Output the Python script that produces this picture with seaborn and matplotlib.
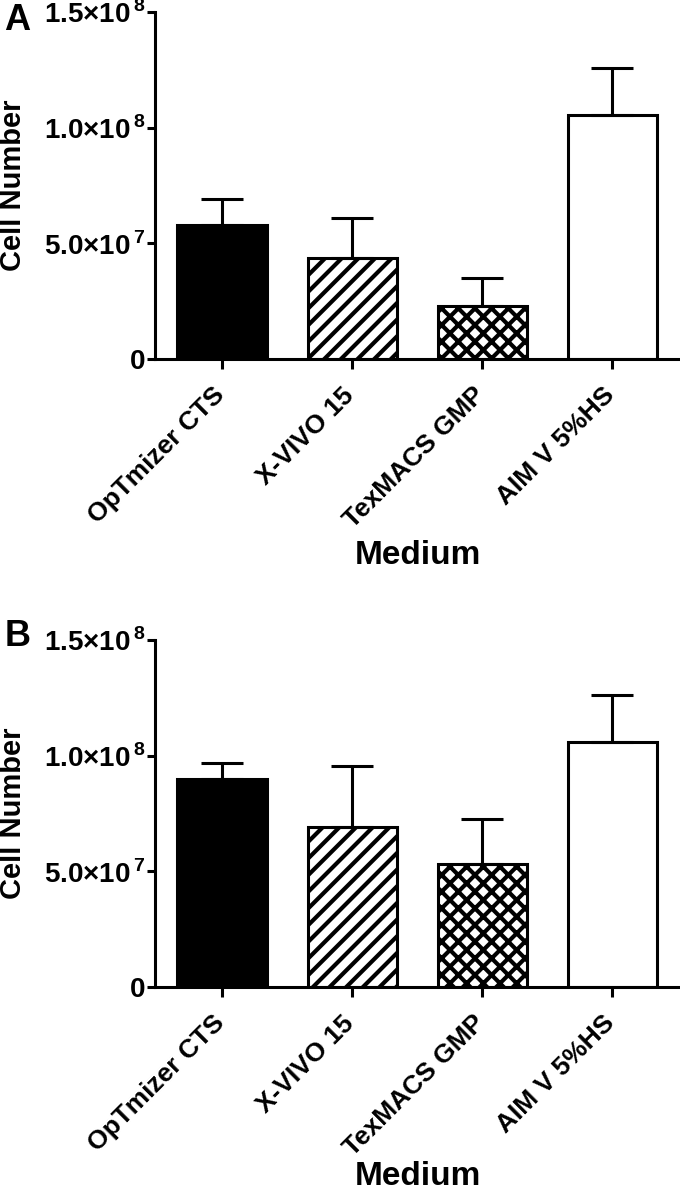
import numpy as np
import pandas as pd
import matplotlib
matplotlib.use("Agg")
import matplotlib.pyplot as plt
import matplotlib.transforms as mtrans
from matplotlib.ticker import FixedLocator, FuncFormatter
import seaborn as sns

media = ["OpTmizer CTS", "X-VIVO 15", "TexMACS GMP", "AIM V 5%HS"]
mean_a = [5.79e7, 4.37e7, 2.29e7, 1.055e8]
sd_a = [1.13e7, 1.73e7, 1.21e7, 2.03e7]
mean_b = [8.99e7, 6.92e7, 5.32e7, 1.059e8]
sd_b = [0.69e7, 2.63e7, 1.94e7, 2.03e7]
y_ticks = [0, 5e7, 1e8, 1.5e8]
y_tick_labels = ["0", r"$5.0{\times}10^{\,7}$", r"$1.0{\times}10^{\,8}$", r"$1.5{\times}10^{\,8}$"]

fills = ["black", "white", "white", "white"]
hatches = [None, "//", "xx", None]

sns.set_style("ticks")
plt.rcParams["font.family"] = ["Liberation Sans", "DejaVu Sans"]
plt.rcParams["font.weight"] = "bold"
plt.rcParams["text.color"] = "black"
plt.rcParams["axes.labelcolor"] = "black"
plt.rcParams["mathtext.fontset"] = "custom"
plt.rcParams["mathtext.rm"] = "Liberation Sans:bold"
plt.rcParams["mathtext.bf"] = "Liberation Sans:bold"
plt.rcParams["hatch.linewidth"] = 3.0
plt.rcParams["hatch.color"] = "black"

fig = plt.figure(figsize=(6.8, 11.96), dpi=100)
ax_a = fig.add_axes([155 / 680, 837 / 1196, 525 / 680, 347 / 1196])
ax_b = fig.add_axes([155 / 680, 209 / 1196, 525 / 680, 347 / 1196])


def draw_panel(ax, means, sds, letter, letter_y, medium_y):
    df = pd.DataFrame({"Medium": media, "Cells": means})
    sns.barplot(data=df, x="Medium", y="Cells", ax=ax, errorbar=None,
                width=0.685, color="white")
    for patch, fc, h in zip(ax.patches, fills, hatches):
        patch.set_facecolor(fc)
        patch.set_edgecolor("black")
        patch.set_linewidth(2.2)
        if h:
            patch.set_hatch(h)
    pos = np.arange(len(media))
    ax.errorbar(pos, means, yerr=[np.zeros(len(sds)), sds], fmt="none",
                ecolor="black", elinewidth=2.2, capsize=15, capthick=2.2,
                zorder=1)
    ax.set_xlim(-0.515, 3.52)
    ax.set_ylim(0, 1.5e8)
    ax.yaxis.set_major_locator(FixedLocator(y_ticks))
    ax.yaxis.set_major_formatter(FuncFormatter(lambda v, i: y_tick_labels[y_ticks.index(v)] if v in y_ticks else ""))
    sns.despine(ax=ax)
    for s in ["left", "bottom"]:
        ax.spines[s].set_linewidth(2.2)
        ax.spines[s].set_color("black")
    ax.tick_params(axis="y", length=6, width=2.2, pad=1, labelsize=20, colors="black")
    ax.tick_params(axis="x", length=7, width=2.2, pad=3, labelsize=19, colors="black")
    shift = mtrans.ScaledTranslation(-0.10, -0.10, fig.dpi_scale_trans)
    for lab in ax.get_xticklabels():
        lab.set_rotation(45)
        lab.set_ha("right")
        lab.set_rotation_mode("anchor")
        lab.set_fontweight("bold")
        lab.set_transform(lab.get_transform() + shift)
    for lab in ax.get_yticklabels():
        lab.set_fontweight("bold")
    ax.set_ylabel("Cell Number", fontsize=21, fontweight="bold")
    ax.yaxis.label.set_va("center")
    ax.yaxis.set_label_coords(-0.27, 0.5)
    ax.set_xlabel("Medium", fontsize=24, fontweight="bold")
    ax.xaxis.label.set_va("center")
    ax.xaxis.set_label_coords(0.5, medium_y)
    ax.text(-0.287, letter_y, letter, transform=ax.transAxes, fontsize=26,
            fontweight="bold", ha="left", va="center")


draw_panel(ax_a, mean_a, sd_a, "A", 0.975, -0.565)
draw_panel(ax_b, mean_b, sd_b, "B", 1.01, -0.545)

fig.savefig("out.png", dpi=100)
